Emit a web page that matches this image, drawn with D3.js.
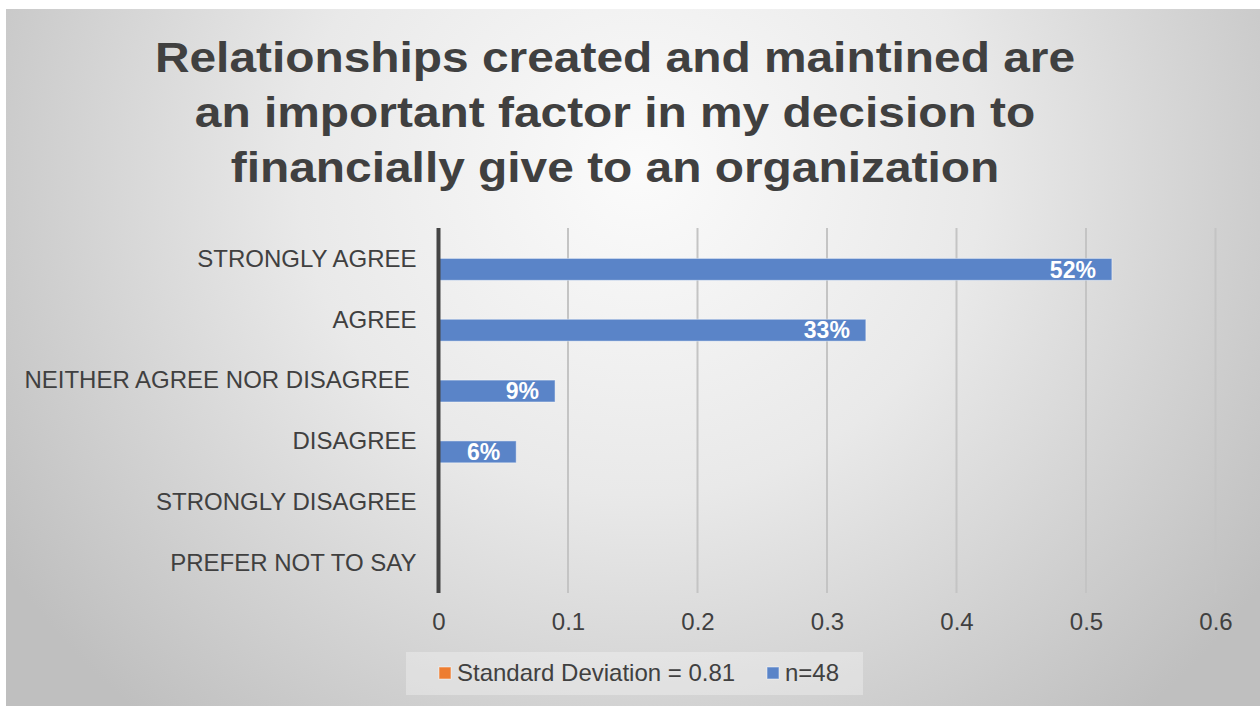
<!DOCTYPE html>
<html>
<head>
<meta charset="utf-8">
<script src="https://cdn.jsdelivr.net/npm/d3@7"></script>
<style>
  html, body { margin: 0; padding: 0; background: #ffffff; }
  svg { display: block; font-family: "Liberation Sans", Arial, sans-serif; }
</style>
</head>
<body>
<svg id="chart" width="1260" height="706"></svg>
<script>
// Survey responses (share of respondents)
const categories = [
  "STRONGLY AGREE",
  "AGREE",
  "NEITHER AGREE NOR DISAGREE ",
  "DISAGREE",
  "STRONGLY DISAGREE",
  "PREFER NOT TO SAY"
];
const stdDevValues = [0, 0, 0, 0, 0, 0];
const countValues = [0.52, 0.33, 0.09, 0.06, 0, 0];
const dataLabels = ["52%", "33%", "9%", "6%", "", ""];
const seriesNames = ["Standard Deviation = 0.81", "n=48"];
const seriesColors = ["#ED7D31", "#5A84C8"];
const xTicks = [0, 0.1, 0.2, 0.3, 0.4, 0.5, 0.6];
const titleLines = [
  "Relationships created and maintined are",
  "an important factor in my decision to",
  "financially give to an organization"
];

const svg = d3.select("#chart");
const W = 1260, H = 706;

// Chart background: soft radial gradient
const defs = svg.append("defs");
const grad = defs.append("radialGradient")
  .attr("id", "bg")
  .attr("gradientUnits", "userSpaceOnUse")
  .attr("cx", 640).attr("cy", 170).attr("r", 760)
  .attr("gradientTransform", "translate(640,170) scale(1,0.95) translate(-640,-170)");
grad.append("stop").attr("offset", 0).attr("stop-color", "#fbfbfb");
grad.append("stop").attr("offset", 0.45).attr("stop-color", "#e9e9e9");
grad.append("stop").attr("offset", 1).attr("stop-color", "#bfbfbf");

svg.append("rect")
  .attr("x", 6).attr("y", 9)
  .attr("width", W - 6).attr("height", H - 9)
  .attr("fill", "url(#bg)");

// Title (slightly widened bold face)
svg.append("g")
  .attr("transform", "translate(615,0) scale(1.14,1)")
  .selectAll("text")
  .data(titleLines)
  .join("text")
  .attr("x", 0)
  .attr("y", (d, i) => 72 + i * 55)
  .attr("text-anchor", "middle")
  .attr("font-size", 42)
  .attr("font-weight", "bold")
  .attr("fill", "#404040")
  .text(d => d);

// Scales
const plot = { left: 438.5, right: 1215.5, top: 228, bottom: 593 };
const x = d3.scaleLinear().domain([0, 0.6]).range([plot.left, plot.right]);
const y = d3.scaleBand().domain(categories).range([plot.top, plot.bottom]).paddingInner(0.28).paddingOuter(0.14);
const ySeries = d3.scaleBand().domain([0, 1]).range([0, y.bandwidth()]);

// Vertical gridlines
svg.append("g")
  .selectAll("line")
  .data(xTicks.slice(1))
  .join("line")
  .attr("x1", d => x(d)).attr("x2", d => x(d))
  .attr("y1", plot.top).attr("y2", plot.bottom)
  .attr("stroke", "#c4c4c4")
  .attr("stroke-width", 2);

// X axis tick labels
const xAxis = d3.axisBottom(x)
  .tickValues(xTicks)
  .tickFormat(d => d === 0 ? "0" : d3.format(".1f")(d))
  .tickSize(0)
  .tickPadding(0);
const xg = svg.append("g")
  .attr("transform", `translate(0,${plot.bottom})`)
  .call(xAxis);
xg.select(".domain").remove();
xg.selectAll("text")
  .attr("y", 37)
  .attr("dy", 0)
  .attr("font-size", 24)
  .attr("font-family", "Liberation Sans, Arial, sans-serif")
  .attr("fill", "#404040");

// Category labels
const yAxis = d3.axisLeft(y).tickSize(0).tickPadding(0);
const yg = svg.append("g")
  .attr("transform", `translate(${plot.left - 22},0)`)
  .call(yAxis);
yg.select(".domain").remove();
yg.selectAll("text")
  .attr("x", 0)
  .attr("dy", "0.35em")
  .attr("font-size", 24)
  .attr("font-family", "Liberation Sans, Arial, sans-serif")
  .attr("fill", "#404040")
  .style("white-space", "pre");

// Bars for both series
const seriesData = [stdDevValues, countValues];
seriesData.forEach((vals, s) => {
  svg.append("g")
    .selectAll("rect")
    .data(vals.map((v, i) => ({ v, c: categories[i] })).filter(d => d.v > 0))
    .join("rect")
    .attr("x", x(0))
    .attr("y", d => y(d.c) + ySeries(s))
    .attr("width", d => x(d.v) - x(0))
    .attr("height", ySeries.bandwidth())
    .attr("fill", seriesColors[s])
    .attr("stroke", "rgba(255,255,255,0.45)")
    .attr("stroke-width", 1);
});

// Value labels inside bar ends
svg.append("g")
  .selectAll("text")
  .data(countValues.map((v, i) => ({ v, c: categories[i], t: dataLabels[i] })).filter(d => d.t))
  .join("text")
  .attr("x", d => x(d.v) - 16)
  .attr("y", d => y(d.c) + ySeries(1) + ySeries.bandwidth() / 2)
  .attr("dy", "0.36em")
  .attr("text-anchor", "end")
  .attr("font-size", 23)
  .attr("font-weight", "bold")
  .attr("fill", "#ffffff")
  .text(d => d.t);

// Vertical value axis line at zero
svg.append("line")
  .attr("x1", x(0)).attr("x2", x(0))
  .attr("y1", plot.top).attr("y2", plot.bottom)
  .attr("stroke", "#444444")
  .attr("stroke-width", 4);

// Legend
const legend = svg.append("g");
legend.append("rect")
  .attr("x", 406).attr("y", 652)
  .attr("width", 457).attr("height", 43)
  .attr("fill", "rgba(255,255,255,0.3)");
const legendItems = [
  { name: seriesNames[0], color: seriesColors[0], sx: 439, tx: 457 },
  { name: seriesNames[1], color: seriesColors[1], sx: 767, tx: 785 }
];
legendItems.forEach(it => {
  legend.append("rect")
    .attr("x", it.sx).attr("y", 667)
    .attr("width", 12).attr("height", 12)
    .attr("fill", it.color)
    .attr("stroke", "rgba(255,255,255,0.5)")
    .attr("stroke-width", 1);
  legend.append("text")
    .attr("x", it.tx).attr("y", 681)
    .attr("font-size", 24)
    .attr("fill", "#404040")
    .text(it.name);
});
</script>
</body>
</html>
